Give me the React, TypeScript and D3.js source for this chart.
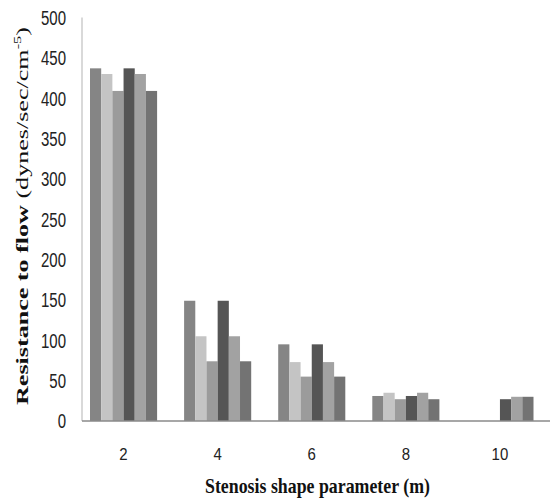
import React from 'react';
import * as d3 from 'd3';

const width = 554;
const height = 498;

const categories = ['2', '4', '6', '8', '10'];
// six series, one value per category (null = no bar)
const series1 = [437, 149, 95, 31, null];
const series2 = [430, 105, 73, 35, null];
const series3 = [409, 74, 55, 27, null];
const series4 = [437, 149, 95, 31, 27];
const series5 = [430, 105, 73, 35, 30];
const series6 = [409, 74, 55, 27, 30];
const yTicks = [0, 50, 100, 150, 200, 250, 300, 350, 400, 450, 500];

const allSeries = [series1, series2, series3, series4, series5, series6];
const colors = ['#858585', '#c4c4c4', '#9b9b9b', '#555555', '#a2a2a2', '#737373'];

const axisX = 82;

export default function App() {
  const y = d3.scaleLinear().domain([0, 500]).range([421, 17.5]);

  const x0 = d3
    .scaleBand()
    .domain(categories)
    .range([76.5, 547])
    .paddingInner(0.287)
    .paddingOuter(0.1435);

  const x1 = d3
    .scaleBand()
    .domain(d3.range(allSeries.length).map(String))
    .range([0, x0.bandwidth()]);

  return (
    <svg
      width={width}
      height={height}
      style={{ position: 'absolute', left: 0, top: 0, display: 'block' }}
    >
      <rect width={width} height={height} fill="#fff" />

      {/* bars */}
      {categories.map((c, ci) => (
        <g key={c} transform={'translate(' + x0(c) + ',0)'}>
          {allSeries.map((s, si) => {
            const v = s[ci];
            if (v == null) return null;
            return (
              <rect
                key={si}
                x={x1(String(si))}
                y={y(v)}
                width={x1.bandwidth()}
                height={y(0) - y(v)}
                fill={colors[si]}
              />
            );
          })}
        </g>
      ))}

      {/* axes */}
      <line x1={axisX} x2={axisX} y1={y(500)} y2={y(0)} stroke="#c0c0c0" strokeWidth={1.2} />
      <line x1={axisX} x2={550} y1={y(0)} y2={y(0)} stroke="#8a8a8a" strokeWidth={1.3} />

      {/* y tick labels */}
      {yTicks.map(t => (
        <text
          key={t}
          transform={'translate(66,' + y(t) + ') scale(1,1.4)'}
          textAnchor="end"
          dominantBaseline="central"
          fontFamily="'Liberation Sans', Arial, sans-serif"
          fontSize={15}
          fill="#222"
        >
          {t}
        </text>
      ))}

      {/* x tick labels */}
      {categories.map(c => (
        <text
          key={c}
          transform={'translate(' + (x0(c)! + x0.bandwidth() / 2) + ',454) scale(1,1.15)'}
          textAnchor="middle"
          dominantBaseline="central"
          fontFamily="'Liberation Sans', Arial, sans-serif"
          fontSize={15}
          fill="#222"
        >
          {c}
        </text>
      ))}

      {/* x axis title */}
      <text
        x={317.5}
        y={493}
        textAnchor="middle"
        fontFamily="'Liberation Serif', 'Times New Roman', serif"
        fontWeight="bold"
        fontSize={21}
        textLength={225}
        lengthAdjust="spacingAndGlyphs"
        fill="#111"
      >
        Stenosis shape parameter (m)
      </text>

      {/* y axis title */}
      <text
        transform="translate(28,216) rotate(-90)"
        textAnchor="middle"
        fontFamily="'Liberation Serif', 'Times New Roman', serif"
        fontSize={17.5}
        textLength={378}
        lengthAdjust="spacingAndGlyphs"
        fill="#111"
      >
        <tspan fontWeight="bold">Resistance to flow </tspan>
        <tspan>(dynes/sec/cm</tspan>
        <tspan fontSize={11} dy={-7}>-5</tspan>
        <tspan dy={7}>)</tspan>
      </text>
    </svg>
  );
}
